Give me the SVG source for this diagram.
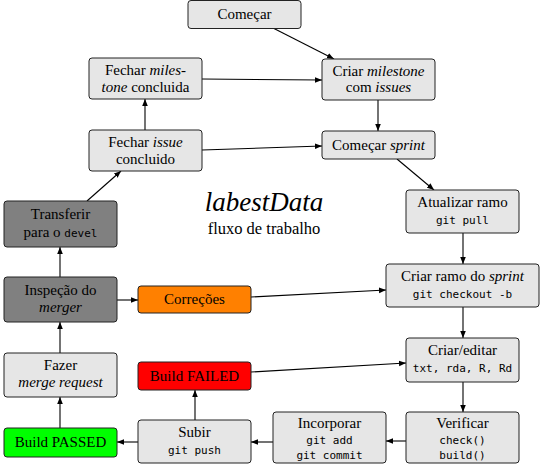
<svg xmlns="http://www.w3.org/2000/svg" width="543" height="473" viewBox="0 0 543 473">
<style>
.n{stroke:#222;stroke-width:1}
.g{fill:#e6e6e6}.d{fill:#808080}.o{fill:#ff8000}.r{fill:#ff0000}.p{fill:#00ff00}
.t text{text-anchor:middle}
.m{font-family:'DejaVu Sans Mono',monospace;font-size:11px}
.i{font-style:italic}
.e line{stroke:#000;stroke-width:1.1;marker-end:url(#a)}
</style>
<defs>
<marker id="a" viewBox="0 0 10 10" refX="10" refY="5" markerWidth="7" markerHeight="7" markerUnits="userSpaceOnUse" orient="auto">
<path d="M0,1 L10,5 L0,9 z" fill="#000"/>
</marker>
</defs>
<rect width="543" height="473" fill="#fff"/>
<g class="e">
<line x1="273" y1="28" x2="334" y2="59"/>
<line x1="202" y1="79" x2="322" y2="80"/>
<line x1="378" y1="100" x2="378" y2="131"/>
<line x1="202" y1="150" x2="322" y2="146"/>
<line x1="397" y1="159" x2="434" y2="190"/>
<line x1="463" y1="233" x2="463" y2="264"/>
<line x1="463" y1="307" x2="463" y2="338"/>
<line x1="463" y1="382" x2="463" y2="412"/>
<line x1="406" y1="441" x2="386" y2="441"/>
<line x1="273" y1="442" x2="251" y2="442"/>
<line x1="138" y1="442" x2="117" y2="442"/>
<line x1="195" y1="420" x2="195" y2="390"/>
<line x1="251" y1="372" x2="406" y2="363"/>
<line x1="251" y1="297" x2="386" y2="290"/>
<line x1="60" y1="428" x2="60" y2="397"/>
<line x1="60" y1="353" x2="60" y2="322"/>
<line x1="117" y1="300" x2="138" y2="300"/>
<line x1="60" y1="277" x2="60" y2="247"/>
<line x1="87" y1="201" x2="121" y2="171"/>
<line x1="145" y1="130" x2="145" y2="99"/>
</g>
<g class="t" font-family="Liberation Serif, DejaVu Serif, serif" font-size="15">
<g id="comecar"><rect class="n g" rx="3" x="188" y="0.5" width="113" height="28"/><text x="244.5" y="19">Começar</text></g>
<g id="fechar-milestone"><rect class="n g" rx="3" x="89" y="58" width="113" height="41"/><text x="145.5" y="75">Fechar <tspan class="i">miles-</tspan></text><text x="145.5" y="92"><tspan class="i">tone</tspan> concluida</text></g>
<g id="criar-milestone"><rect class="n g" rx="3" x="322" y="59" width="113" height="41"/><text x="378.5" y="76">Criar <tspan class="i">milestone</tspan></text><text x="378.5" y="92">com <tspan class="i">issues</tspan></text></g>
<g id="fechar-issue"><rect class="n g" rx="3" x="89" y="130" width="113" height="41"/><text x="145.5" y="147">Fechar <tspan class="i">issue</tspan></text><text x="145.5" y="164">concluido</text></g>
<g id="comecar-sprint"><rect class="n g" rx="3" x="322" y="131" width="113" height="28"/><text x="378.5" y="150">Começar <tspan class="i">sprint</tspan></text></g>
<g id="atualizar"><rect class="n g" rx="3" x="406" y="190" width="113" height="43"/><text x="462.5" y="207">Atualizar ramo</text><text class="m" x="462.5" y="224">git pull</text></g>
<g id="titulo"><text x="264" y="211" class="i" font-size="27">labestData</text><text x="264" y="234" font-size="16.5">fluxo de trabalho</text></g>
<g id="transferir"><rect class="n d" rx="3" x="4" y="201" width="113" height="46"/><text x="60.5" y="219">Transferir</text><text x="60.5" y="237">para o <tspan class="m">devel</tspan></text></g>
<g id="inspecao"><rect class="n d" rx="3" x="4" y="277" width="113" height="45"/><text x="60.5" y="295">Inspeção do</text><text x="60.5" y="312" class="i">merger</text></g>
<g id="correcoes"><rect class="n o" rx="3" x="138" y="286" width="113" height="27"/><text x="194.5" y="304">Correções</text></g>
<g id="criar-ramo"><rect class="n g" rx="3" x="386" y="264" width="153" height="43"/><text x="462.5" y="281">Criar ramo do <tspan class="i">sprint</tspan></text><text class="m" x="462.5" y="298">git checkout -b</text></g>
<g id="fazer-mr"><rect class="n g" rx="3" x="4" y="353" width="113" height="44"/><text x="60.5" y="370">Fazer</text><text x="60.5" y="387" class="i">merge request</text></g>
<g id="build-failed"><rect class="n r" rx="3" x="138" y="362" width="113" height="28"/><text x="194.5" y="381">Build FAILED</text></g>
<g id="criar-editar"><rect class="n g" rx="3" x="406" y="338" width="113" height="44"/><text x="462.5" y="355">Criar/editar</text><text class="m" x="462.5" y="372">txt, rda, R, Rd</text></g>
<g id="build-passed"><rect class="n p" rx="3" x="4" y="428" width="113" height="29"/><text x="60.5" y="447">Build PASSED</text></g>
<g id="subir"><rect class="n g" rx="3" x="138" y="420" width="113" height="43"/><text x="194.5" y="437">Subir</text><text class="m" x="194.5" y="454">git push</text></g>
<g id="incorporar"><rect class="n g" rx="3" x="273" y="412" width="113" height="51"/><text x="329.5" y="428">Incorporar</text><text class="m" x="329.5" y="444">git add</text><text class="m" x="329.5" y="459">git commit</text></g>
<g id="verificar"><rect class="n g" rx="3" x="406" y="412" width="113" height="51"/><text x="462.5" y="428">Verificar</text><text class="m" x="462.5" y="444">check()</text><text class="m" x="462.5" y="459">build()</text></g>
</g>
</svg>
